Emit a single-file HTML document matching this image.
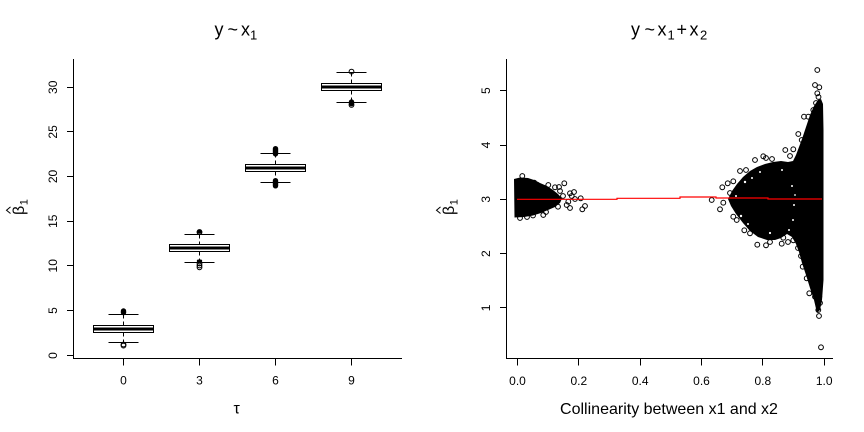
<!DOCTYPE html>
<html>
<head>
<meta charset="utf-8">
<style>
html,body{margin:0;padding:0;background:#fff;}
svg{display:block;}
text{font-family:"Liberation Sans",Arial,sans-serif;fill:#000;}
</style>
</head>
<body>
<svg width="864" height="432" viewBox="0 0 864 432" xmlns="http://www.w3.org/2000/svg">
<rect width="864" height="432" fill="#fff"/>

<!-- LEFT PLOT -->
<text x="214.5" y="35.5" font-size="18">y</text>
<text x="227.5" y="35.5" font-size="18">~</text>
<text x="241" y="35.5" font-size="18">x</text>
<text x="250" y="39.5" font-size="13">1</text>

<g stroke="#000" stroke-width="1" fill="none" shape-rendering="crispEdges">
  <line x1="73.5" y1="59" x2="73.5" y2="358.5"/>
  <line x1="73" y1="358.5" x2="402" y2="358.5"/>
  <line x1="67" y1="355.5" x2="73.5" y2="355.5"/>
  <line x1="67" y1="310.5" x2="73.5" y2="310.5"/>
  <line x1="67" y1="265.5" x2="73.5" y2="265.5"/>
  <line x1="67" y1="221.5" x2="73.5" y2="221.5"/>
  <line x1="67" y1="176.5" x2="73.5" y2="176.5"/>
  <line x1="67" y1="131.5" x2="73.5" y2="131.5"/>
  <line x1="67" y1="87.5" x2="73.5" y2="87.5"/>
  <line x1="123.5" y1="358.5" x2="123.5" y2="365.5"/>
  <line x1="199.5" y1="358.5" x2="199.5" y2="365.5"/>
  <line x1="275.5" y1="358.5" x2="275.5" y2="365.5"/>
  <line x1="351.5" y1="358.5" x2="351.5" y2="365.5"/>
</g>

<g font-size="12" text-anchor="middle">
  <text transform="translate(56.8,355.5) rotate(-90)">0</text>
  <text transform="translate(56.8,310.5) rotate(-90)">5</text>
  <text transform="translate(56.8,265.8) rotate(-90)">10</text>
  <text transform="translate(56.8,221.2) rotate(-90)">15</text>
  <text transform="translate(56.8,176.5) rotate(-90)">20</text>
  <text transform="translate(56.8,131.9) rotate(-90)">25</text>
  <text transform="translate(56.8,87.3) rotate(-90)">30</text>
</g>
<g font-size="12" text-anchor="middle">
  <text x="123.5" y="384.5">0</text>
  <text x="199.5" y="384.5">3</text>
  <text x="275.5" y="384.5">6</text>
  <text x="351.5" y="384.5">9</text>
</g>
<text x="236.7" y="413.5" font-size="16" text-anchor="middle">τ</text>

<g transform="translate(24,215) rotate(-90)">
  <text x="0" y="0" font-size="16">β</text>
  <polyline points="1.5,-13.5 4.8,-17.5 8.1,-13.5" fill="none" stroke="#000" stroke-width="1"/>
  <text x="9.8" y="3.5" font-size="11">1</text>
</g>

<g stroke="#000" fill="none">
  <line x1="123.5" y1="314.5" x2="123.5" y2="325.5" stroke-dasharray="4,3"/>
  <line x1="123.5" y1="332.5" x2="123.5" y2="342.5" stroke-dasharray="4,3"/>
  <line x1="108.5" y1="314.5" x2="138.5" y2="314.5"/>
  <line x1="108.5" y1="342.5" x2="138.5" y2="342.5"/>
  <rect x="93.5" y="325.5" width="60" height="7" fill="#fff"/>
  <line x1="93.5" y1="329" x2="153.5" y2="329" stroke-width="3"/>

  <line x1="199.5" y1="234.5" x2="199.5" y2="244.5" stroke-dasharray="4,3"/>
  <line x1="199.5" y1="251.5" x2="199.5" y2="262.5" stroke-dasharray="4,3"/>
  <line x1="184.5" y1="234.5" x2="214.5" y2="234.5"/>
  <line x1="184.5" y1="262.5" x2="214.5" y2="262.5"/>
  <rect x="169.5" y="244.5" width="60" height="7" fill="#fff"/>
  <line x1="169.5" y1="248" x2="229.5" y2="248" stroke-width="3"/>

  <line x1="275.5" y1="153.5" x2="275.5" y2="164.5" stroke-dasharray="4,3"/>
  <line x1="275.5" y1="171.5" x2="275.5" y2="182.5" stroke-dasharray="4,3"/>
  <line x1="260.5" y1="153.5" x2="290.5" y2="153.5"/>
  <line x1="260.5" y1="182.5" x2="290.5" y2="182.5"/>
  <rect x="245.5" y="164.5" width="60" height="7" fill="#fff"/>
  <line x1="245.5" y1="168" x2="305.5" y2="168" stroke-width="3"/>

  <line x1="351.5" y1="72.5" x2="351.5" y2="83.5" stroke-dasharray="4,3"/>
  <line x1="351.5" y1="90.5" x2="351.5" y2="102.5" stroke-dasharray="4,3"/>
  <line x1="336.5" y1="72.5" x2="366.5" y2="72.5"/>
  <line x1="336.5" y1="102.5" x2="366.5" y2="102.5"/>
  <rect x="321.5" y="83.5" width="60" height="7" fill="#fff"/>
  <line x1="321.5" y1="87" x2="381.5" y2="87" stroke-width="3"/>
</g>

<g fill="#000" stroke="none">
  <rect x="120.8" y="308.3" width="5.4" height="7" rx="2.7"/>
  <rect x="272.8" y="146" width="5.4" height="10.5" rx="2.7"/>
  <rect x="272.8" y="178" width="5.4" height="10.5" rx="2.7"/>
  <rect x="348.8" y="99.3" width="5.4" height="7" rx="2.7"/>
  <rect x="196.8" y="229.3" width="5.4" height="4.5" rx="2.2"/>
  <rect x="196.8" y="259.5" width="5.4" height="3" rx="1.5"/>
</g>
<g fill="none" stroke="#000" stroke-width="1">
  <circle cx="123.5" cy="344.5" r="2.4"/>
  <circle cx="123.5" cy="345.6" r="2.4"/>
  <circle cx="199.5" cy="232.2" r="2.4"/>
  <circle cx="199.5" cy="263.5" r="2.4"/>
  <circle cx="199.5" cy="265.5" r="2.4"/>
  <circle cx="199.5" cy="267.3" r="2.4"/>
  <circle cx="351.5" cy="71.6" r="2.4"/>
  <circle cx="351.5" cy="104.9" r="2.4"/>
</g>

<!-- RIGHT PLOT -->
<text x="631" y="35.5" font-size="18">y</text>
<text x="644.5" y="35.5" font-size="18">~</text>
<text x="657.5" y="35.5" font-size="18">x</text>
<text x="667.5" y="39.5" font-size="13">1</text>
<text x="676.5" y="35.5" font-size="18">+</text>
<text x="689.5" y="35.5" font-size="18">x</text>
<text x="700" y="39.5" font-size="13">2</text>

<g stroke="#000" stroke-width="1" fill="none" shape-rendering="crispEdges">
  <line x1="506.5" y1="59" x2="506.5" y2="358.5"/>
  <line x1="506" y1="358.5" x2="833" y2="358.5"/>
  <line x1="500" y1="307.5" x2="506.5" y2="307.5"/>
  <line x1="500" y1="253.5" x2="506.5" y2="253.5"/>
  <line x1="500" y1="199.5" x2="506.5" y2="199.5"/>
  <line x1="500" y1="145.5" x2="506.5" y2="145.5"/>
  <line x1="500" y1="90.5" x2="506.5" y2="90.5"/>
  <line x1="517.5" y1="358.5" x2="517.5" y2="365.5"/>
  <line x1="578.5" y1="358.5" x2="578.5" y2="365.5"/>
  <line x1="640.5" y1="358.5" x2="640.5" y2="365.5"/>
  <line x1="701.5" y1="358.5" x2="701.5" y2="365.5"/>
  <line x1="762.5" y1="358.5" x2="762.5" y2="365.5"/>
  <line x1="824.5" y1="358.5" x2="824.5" y2="365.5"/>
</g>
<g font-size="12" text-anchor="middle">
  <text transform="translate(489.8,307.9) rotate(-90)">1</text>
  <text transform="translate(489.8,253.6) rotate(-90)">2</text>
  <text transform="translate(489.8,199.3) rotate(-90)">3</text>
  <text transform="translate(489.8,145) rotate(-90)">4</text>
  <text transform="translate(489.8,90.7) rotate(-90)">5</text>
</g>
<g font-size="12" text-anchor="middle">
  <text x="517.5" y="385">0.0</text>
  <text x="578.8" y="385">0.2</text>
  <text x="640.2" y="385">0.4</text>
  <text x="701.5" y="385">0.6</text>
  <text x="762.8" y="385">0.8</text>
  <text x="824.2" y="385">1.0</text>
</g>
<text x="669" y="414" font-size="16" text-anchor="middle">Collinearity between x1 and x2</text>

<g transform="translate(454,215) rotate(-90)">
  <text x="0" y="0" font-size="16">β</text>
  <polyline points="1.5,-13.5 4.8,-17.5 8.1,-13.5" fill="none" stroke="#000" stroke-width="1"/>
  <text x="9.8" y="3.5" font-size="11">1</text>
</g>

<g fill="#000" stroke="none">
  <path d="M514,179 L520,177.5 L528,178 L534,180 L540,183 L547,186 L553,190 L558,194 L562,198.5 L560,203 L555,207 L548,210 L541,213 L533,215.5 L524,217 L514.5,217.5 Z"/>
  <path d="M728,199 L732,191 L737,184 L743,177 L750,171 L757,167 L765,164 L773,162 L781,161 L788,162 L793,161 L796,155 L799,147 L802,139 L806,127 L810,115 L814,106 L818,100 L821,99 L823,104 L823.5,130 L823.5,280 L822,300 L820,310 L817,313 L814,300 L810,288 L806,275 L802,263 L799,252 L796,244 L792,237 L787,234 L781,238 L775,240 L767,240 L758,237 L750,231 L743,223 L736,214 L731,206 Z"/>
</g>
<!-- white speckles in middle cluster -->
<g fill="#fff" stroke="none">
  <circle cx="745" cy="182" r="1.2"/>
  <circle cx="752" cy="178" r="1"/>
  <circle cx="741" cy="216" r="1.2"/>
  <circle cx="748" cy="224" r="1"/>
  <circle cx="760" cy="172" r="1"/>
  <circle cx="770" cy="233" r="1.1"/>
  <circle cx="782" cy="170" r="1"/>
  <circle cx="792" cy="186" r="1"/>
  <circle cx="794" cy="205" r="1"/>
  <circle cx="793" cy="220" r="1"/>
  <circle cx="795" cy="195" r="0.9"/>
  <circle cx="736" cy="196" r="1"/>
  <circle cx="789" cy="230" r="1"/>
</g>
<g fill="none" stroke="#000" stroke-width="1">
  <circle cx="522.3" cy="176" r="2.4"/>
  <circle cx="534.3" cy="182.7" r="2.4"/>
  <circle cx="537" cy="184.5" r="2.4"/>
  <circle cx="548.3" cy="185" r="2.4"/>
  <circle cx="555" cy="187.3" r="2.4"/>
  <circle cx="564.3" cy="183.3" r="2.4"/>
  <circle cx="560" cy="191" r="2.4"/>
  <circle cx="570" cy="193.3" r="2.4"/>
  <circle cx="571.7" cy="196" r="2.4"/>
  <circle cx="575" cy="199" r="2.4"/>
  <circle cx="568.3" cy="201.7" r="2.4"/>
  <circle cx="580.7" cy="198.3" r="2.4"/>
  <circle cx="582.3" cy="209.3" r="2.4"/>
  <circle cx="585" cy="206" r="2.4"/>
  <circle cx="566.7" cy="205" r="2.4"/>
  <circle cx="558" cy="206.7" r="2.4"/>
  <circle cx="546" cy="212" r="2.4"/>
  <circle cx="543.3" cy="215" r="2.4"/>
  <circle cx="533" cy="215.5" r="2.4"/>
  <circle cx="527" cy="217" r="2.4"/>
  <circle cx="520" cy="218" r="2.4"/>
  <circle cx="550" cy="193" r="2.4"/>
  <circle cx="553" cy="201" r="2.4"/>
  <circle cx="570" cy="208" r="2.4"/>
  <circle cx="544" cy="188" r="2.4"/>
  <circle cx="559" cy="187" r="2.4"/>
  <circle cx="574" cy="192" r="2.4"/>
  <circle cx="563" cy="196" r="2.4"/>

  <circle cx="711.7" cy="200" r="2.4"/>
  <circle cx="720" cy="209.3" r="2.4"/>
  <circle cx="723.3" cy="202.7" r="2.4"/>
  <circle cx="722.3" cy="187.3" r="2.4"/>
  <circle cx="727.7" cy="183.3" r="2.4"/>
  <circle cx="733.3" cy="181.3" r="2.4"/>
  <circle cx="730" cy="193" r="2.4"/>
  <circle cx="733.3" cy="216.7" r="2.4"/>
  <circle cx="736.7" cy="220" r="2.4"/>
  <circle cx="740" cy="211.7" r="2.4"/>
  <circle cx="740" cy="171" r="2.4"/>
  <circle cx="746" cy="170" r="2.4"/>
  <circle cx="755" cy="160" r="2.4"/>
  <circle cx="763.3" cy="156.3" r="2.4"/>
  <circle cx="766" cy="158" r="2.4"/>
  <circle cx="772" cy="159" r="2.4"/>
  <circle cx="785.3" cy="150" r="2.4"/>
  <circle cx="793.3" cy="149.3" r="2.4"/>
  <circle cx="790" cy="156" r="2.4"/>
  <circle cx="798.3" cy="134" r="2.4"/>
  <circle cx="801.7" cy="140" r="2.4"/>
  <circle cx="804" cy="116.7" r="2.4"/>
  <circle cx="808.3" cy="116.7" r="2.4"/>
  <circle cx="813.3" cy="110" r="2.4"/>
  <circle cx="816" cy="103" r="2.4"/>
  <circle cx="815" cy="85" r="2.4"/>
  <circle cx="819.3" cy="87.3" r="2.4"/>
  <circle cx="817.3" cy="93.3" r="2.4"/>
  <circle cx="818.5" cy="97" r="2.4"/>
  <circle cx="817.3" cy="70" r="2.4"/>

  <circle cx="744.3" cy="230.3" r="2.4"/>
  <circle cx="750" cy="233.3" r="2.4"/>
  <circle cx="757.3" cy="244.7" r="2.4"/>
  <circle cx="766" cy="245.3" r="2.4"/>
  <circle cx="770" cy="242" r="2.4"/>
  <circle cx="781.7" cy="243.7" r="2.4"/>
  <circle cx="783.3" cy="237.7" r="2.4"/>
  <circle cx="788" cy="242" r="2.4"/>
  <circle cx="793.3" cy="240.3" r="2.4"/>
  <circle cx="798" cy="248" r="2.4"/>
  <circle cx="801" cy="256" r="2.4"/>
  <circle cx="802.7" cy="266.7" r="2.4"/>
  <circle cx="806.7" cy="278.3" r="2.4"/>
  <circle cx="809.3" cy="293.3" r="2.4"/>
  <circle cx="815" cy="296.7" r="2.4"/>
  <circle cx="819.3" cy="296.7" r="2.4"/>
  <circle cx="820" cy="303" r="2.4"/>
  <circle cx="818.3" cy="310" r="2.4"/>
  <circle cx="819" cy="316" r="2.4"/>
  <circle cx="821" cy="347.3" r="2.4"/>
</g>

<g stroke="#ff0000" stroke-width="1.2" fill="none">
  <polyline points="517,199.3 617,199.3 617,198.3 680,198.3 680,197 716,197 716,198 768,198 768,199 822,199"/>
</g>
</svg>
</body>
</html>
